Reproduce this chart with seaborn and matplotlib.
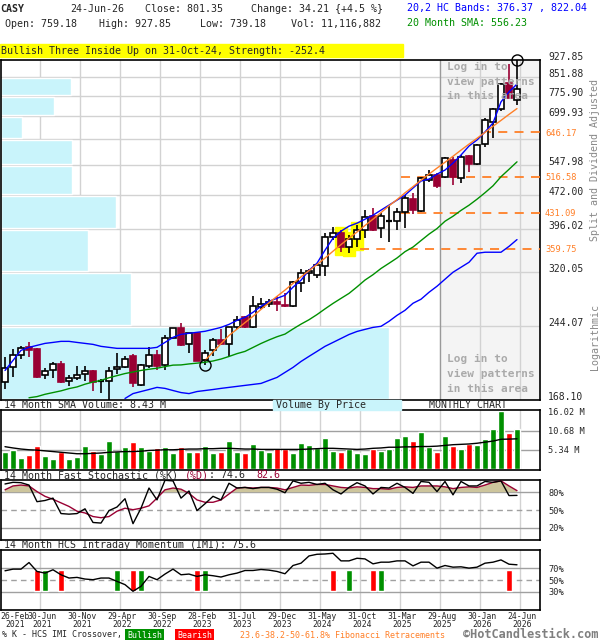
import numpy as np
import pandas as pd
import matplotlib
matplotlib.use("Agg")
from matplotlib import pyplot as plt
from matplotlib.patches import Rectangle
import seaborn as sns

# ---------------- data (Feb-2021 .. Jun-2026)
months = pd.date_range("2021-02-01", "2026-06-01", freq="MS")

opens = [184, 198, 211, 219, 217, 191, 195, 201, 185, 188,
         192, 194, 185, 185, 196, 198, 210, 181, 199, 211,
         200, 230, 241, 223, 235, 206, 216, 227, 223, 242,
         255, 242, 268, 272, 275, 271, 269, 302, 318, 315,
         329, 381, 389, 362, 377, 395, 423, 399, 413, 413,
         432, 461, 434, 508, 520, 515, 561, 513, 573, 550,
         608, 680, 726, 827, 759.18]
highs = [209, 217, 221, 225, 218, 197, 203, 204, 191, 199,
         199, 195, 187, 198, 213, 210, 212, 201, 219, 216,
         233, 241, 247, 235, 236, 216, 229, 240, 243, 257,
         256, 283, 280, 279, 283, 288, 305, 324, 324, 334,
         389, 401, 395, 385, 405, 436, 441, 430, 445, 441,
         471, 475, 515, 534, 526, 570, 570, 576, 576, 608,
         693, 730, 827, 910, 927.85]
lows = [178, 189, 207, 209, 188, 187, 188, 183, 180, 186,
        185, 176, 174, 168.5, 192, 197, 179, 180, 197, 195,
        195, 229, 221, 213, 204, 200.1, 210, 222, 210, 240,
        241, 241, 265, 268, 263, 268, 268, 289, 304, 311,
        313, 375, 353, 351, 362, 379, 393, 379, 371, 395,
        399, 428, 432, 502, 488, 513, 495, 500, 528, 548,
        599, 627, 718, 765, 739.18]
closes = [197, 211, 218, 216, 189, 194, 201, 184, 188, 191,
          194, 184, 185, 194, 198, 207, 183, 200, 211, 199,
          230, 241, 222, 235, 205, 213, 227, 223, 242, 251,
          242, 270, 272, 275, 272, 269, 304, 318, 321, 331,
          381, 389, 362, 377, 395, 421, 395, 423, 413, 432,
          463, 436, 513, 520, 492, 567, 515, 570, 550, 605,
          687, 726, 823, 767.14, 801.35]

# volume in millions of shares
volume = [4.87, 5.34, 3.12, 4.0, 6.41, 3.74, 2.94, 4.72, 2.94, 3.38,
          6.41, 5.07, 4.36, 7.74, 5.07, 6.14, 7.48, 6.14, 5.07, 5.96,
          6.14, 4.54, 6.14, 4.81, 4.81, 6.41, 4.54, 4.81, 7.74, 4.81,
          4.54, 6.94, 5.34, 4.81, 5.87, 5.61, 4.54, 7.36, 6.72, 5.81,
          8.58, 5.06, 4.87, 5.62, 4.59, 4.23, 5.53, 5.06, 5.53, 8.58,
          9.21, 7.83, 10.32, 6.25, 4.87, 9.21, 6.53, 5.62, 7.0, 6.81,
          8.38, 11.07, 16.02, 10.04, 11.12]
vol_sma = [6.25, 5.9, 5.6, 5.4, 5.3, 5.1, 4.9, 4.7, 4.5, 4.3,
           4.3, 4.4, 4.5, 4.7, 4.8, 4.9, 4.9, 5.0, 5.2, 5.3,
           5.4, 5.4, 5.5, 5.6, 5.6, 5.7, 5.7, 5.8, 5.8, 5.7,
           5.6, 5.6, 5.5, 5.5, 5.5, 5.5, 5.5, 5.5, 5.6, 5.7,
           5.8, 5.8, 5.7, 5.6, 5.5, 5.6, 5.8, 5.9, 6.1, 6.1,
           6.2, 6.2, 6.3, 6.3, 6.4, 6.6, 6.8, 6.9, 7.0, 7.2,
           7.5, 7.8, 8.3, 8.35, 8.43]

# 20,2 HC bands and 20 month SMA
upper_band = [195.0, 205.1, 215.7, 219.0, 221.2, 223.4, 224.5, 225.7, 225.7, 224.5,
              223.4, 222.3, 220.1, 219.0, 217.9, 217.9, 217.9, 217.9, 217.9, 219.0,
              224.5, 230.3, 233.8, 235.0, 236.2, 237.4, 239.7, 242.1, 245.8, 250.8,
              254.6, 261.2, 269.1, 276.0, 280.2, 284.5, 296.3, 306.8, 322.6, 334.2,
              356.8, 379.0, 392.6, 402.6, 408.7, 416.9, 425.5, 436.4, 447.5, 458.9,
              470.6, 487.6, 505.1, 510.1, 523.0, 533.7, 552.7, 575.6, 602.3, 620.8,
              646.3, 676.3, 751.7, 790.5, 822.04]
lower_start = 15
lower_band = [169.4, 173.6, 175.4, 177.2, 179.1, 178.2, 176.3, 174.5, 173.6, 175.4,
              176.3, 177.2, 178.2, 179.1, 180.0, 180.9, 181.8, 182.7, 185.5, 188.3,
              193.1, 198.0, 204.0, 209.3, 214.6, 220.1, 224.5, 229.0, 233.6, 237.2,
              239.7, 242.1, 243.4, 249.6, 257.2, 263.8, 273.3, 278.9, 288.8, 297.7,
              308.4, 319.4, 327.5, 335.8, 351.4, 353.2, 353.2, 353.2, 363.7, 376.37]
sma_start = 3
sma20 = [170, 171, 173, 174.5, 176, 178, 179.5, 182, 184, 185.5,
         188, 190, 192, 193.5, 195, 196.2, 197.2, 198.8, 200.3, 200.5,
         201.5, 202.3, 203.2, 204.5, 206.5, 209.2, 212.2, 214.6, 218.9, 223.3,
         227.3, 231.0, 234.1, 240.2, 246.1, 251.6, 258.2, 265.7, 273.1, 280.1,
         287.2, 296.7, 307.1, 315.5, 325.5, 334.1, 343.1, 354.2, 362.5, 374.5,
         386.8, 397.8, 412.7, 423.2, 435.8, 447.3, 461.0, 476.3, 493.1, 516.2,
         535.7, 556.23]
# orange trend line from the swing low
trend_start = 25
trend = [205, 214, 223, 232.5, 240, 248, 256, 265, 274, 283,
         292, 302, 312, 322, 332, 343, 355, 367, 379, 391,
         404, 417, 431, 446, 460, 476, 491, 507, 523, 539,
         555, 572, 590, 608, 626, 645, 665, 685, 706, 727]

fib_levels = [646.17, 516.58, 431.09, 359.75]
fib_from = [59.6, 49.5, 49.5, 44.4]        # month index where each line begins
pattern_months = [42, 43, 44]              # three inside up, Aug-Oct 2024
price_grid = [168.10, 244.07, 320.05, 396.02, 472.00, 547.98,
              623.95, 699.93, 775.90, 851.88, 927.85]
vbp_pct = [100, 33.5, 22.4, 29.6, 18.3, 18.3, 5.4, 13.7, 18.0, 0]   # volume by price

stoch_k = [93.8, 96.6, 96, 92, 64, 66, 70, 44, 43, 44,
           52, 29, 28, 49, 55, 69, 27, 53, 87, 67,
           100, 99, 70, 82, 49, 60.5, 73, 67, 95, 87,
           88, 86, 88, 88, 85, 79, 99, 95, 96.6, 93,
           95, 84, 77, 88, 96, 90.5, 77, 88, 87, 95,
           88, 78, 98, 96.6, 81, 98, 75.5, 98, 90.5, 90.5,
           98, 96.6, 99, 74.3, 74.6]
stoch_d = [84, 90.5, 92, 90.5, 81, 73, 68, 62, 56, 48,
           45, 39, 37, 39, 48, 53, 50.5, 53, 57, 70,
           84, 87, 85, 78, 67, 63, 63, 67, 77, 87,
           88, 87, 88, 88, 87, 84, 88, 92, 91.5, 93,
           93, 90.5, 88, 87, 89, 88, 86, 86, 85, 88,
           89, 88, 90.5, 90.5, 90.5, 89, 86, 88, 89, 88,
           92, 96.6, 99, 90.5, 82.6]
imi = [65.5, 68.3, 68.3, 79.4, 64.4, 61.6, 67.2, 58.8, 53.3, 54.4,
       51.6, 50.5, 53.3, 53.3, 47.7, 42.2, 31, 39.4, 56, 50.5,
       60, 68.3, 58.8, 60, 56, 58.8, 57.2, 55, 58.8, 61.6,
       66, 66, 67.7, 66.6, 64.4, 60.5, 74.4, 78.3, 90.5, 93.3,
       93.8, 95, 82.2, 82.2, 86.6, 85.5, 77.2, 80, 80, 82.2,
       82.2, 73.8, 80, 80, 70, 74.4, 71.6, 72.2, 70, 71.6,
       78.3, 80, 83.8, 76.6, 75.6]
bullish_months = [5, 14, 17, 25, 43, 47]
bearish_months = [4, 7, 16, 24, 41, 46, 63]

xlabels = ["26-Feb\n2021", "30-Jun\n2021", "30-Nov\n2021", "29-Apr\n2022",
           "30-Sep\n2022", "28-Feb\n2023", "31-Jul\n2023", "29-Dec\n2023",
           "31-May\n2024", "31-Oct\n2024", "31-Mar\n2025", "29-Aug\n2025",
           "30-Jan\n2026", "24-Jun\n2026"]

# ---------------- style
sns.set_style("white")
plt.rcParams['font.family'] = ['DejaVu Sans Mono']
MAROON = '#990033'
ORANGE = '#ff7f27'
GRID = '#d2d2d2'
CYAN = '#c9f4fb'

W, H = 600, 640
CW = 0.602 * 7.2 * 100 / 72     # width of one mono character at 7.2pt, in pixels
fig = plt.figure(figsize=(W / 100, H / 100), dpi=100)


def box(x0, y0, x1, y1):
    return [x0 / W, 1 - y1 / H, (x1 - x0) / W, (y1 - y0) / H]


def ftext(x, y, s, **kw):
    kw.setdefault('va', 'center')
    kw.setdefault('fontsize', 7.2)
    return fig.text(x / W, 1 - y / H, s, **kw)


def frect(x0, y0, x1, y1, color):
    fig.patches.append(Rectangle((x0 / W, 1 - y1 / H), (x1 - x0) / W, (y1 - y0) / H,
                                 transform=fig.transFigure, color=color, zorder=0))


idx = np.arange(len(closes))
XMIN, XMAX = -0.5, 66.875
grid_x = [(40 * k - 5) / 8 for k in range(1, 14)]

# ---------------- price panel
ax = fig.add_axes(box(1, 60, 540, 400))
ax.set_yscale('log')
ax.set_xlim(XMIN, XMAX)
ax.set_ylim(price_grid[0], price_grid[-1])
ax.axvspan(grid_x[10], XMAX, color='#f4f4f4', zorder=0)
for g in price_grid[1:-1]:
    ax.axhline(g, color=GRID, lw=1, zorder=1)
for k, gx in enumerate(grid_x):
    ax.axvline(gx, color='#9a9a9a' if k == 10 else GRID, lw=1, zorder=1)

lo = np.array(price_grid[:-1]) * 1.005
hi = np.array(price_grid[1:]) / 1.005
ax.barh(lo, np.array(vbp_pct) * 0.485, height=hi - lo, left=XMIN,
        align='edge', color=CYAN, zorder=1.5)

for i in pattern_months:
    ax.add_patch(Rectangle((i - 0.72, lows[i] * 0.985), 1.44,
                           highs[i] * 1.015 - lows[i] * 0.985,
                           color='#ffff00', zorder=3))

for lvl, st in zip(fib_levels, fib_from):
    ax.hlines(lvl, st, XMAX, colors=ORANGE, linestyles=(0, (5, 4)), lw=1.3, zorder=4)

for i in idx:
    o, h, l, c = opens[i], highs[i], lows[i], closes[i]
    if c > o:
        col, face = 'black', 'white'
    elif c < o:
        col, face = MAROON, MAROON
    else:
        col, face = 'black', None
    ax.vlines(i, l, h, color=col, lw=1.2, zorder=5)
    if face is None:
        ax.hlines(o, i - 0.4, i + 0.4, color='black', lw=1.6, zorder=6)
    else:
        ax.bar(i, abs(c - o), bottom=min(o, c), width=0.68, facecolor=face,
               edgecolor=col, lw=1.2, zorder=6)

sns.lineplot(x=idx, y=upper_band, ax=ax, color='#0000ff', linewidth=1, zorder=7)
sns.lineplot(x=idx[lower_start:], y=lower_band, ax=ax, color='#0000ff', linewidth=1, zorder=7)
sns.lineplot(x=idx[sma_start:], y=sma20, ax=ax, color='#009000', linewidth=1, zorder=7)
sns.lineplot(x=idx[trend_start:], y=trend, ax=ax, color=ORANGE, linewidth=1, zorder=7)

ax.plot(trend_start, lows[trend_start], 'o', mfc='none', mec='black', ms=8, mew=1, zorder=8)
ax.plot(idx[-1], highs[-1], 'o', mfc='none', mec='black', ms=8, mew=1, zorder=8, clip_on=False)

ax.yaxis.tick_right()
ax.set_yticks(price_grid, labels=['' if abs(v - 623.95) < 1 else f'{v:.2f}' for v in price_grid])
ax.set_yticks(fib_levels, labels=[f'{v:.2f}' for v in fib_levels], minor=True)
ax.tick_params(axis='y', which='both', length=0)
ax.tick_params(axis='y', which='major', pad=5.8, labelsize=7)
ax.tick_params(axis='y', which='minor', pad=3.6, labelsize=6.3, labelcolor=ORANGE)
for t in ax.get_yticklabels():
    t.set_va('baseline')
ax.set_xticks([])

for ys in ((67, 82, 96), (359, 374, 389)):
    for yy, s in zip(ys, ('Log in to', 'view patterns', 'in this area')):
        ftext(447, yy, s, color='#aaaaaa', fontweight='bold', fontsize=8, zorder=9)

ftext(595, 160, 'Split and Dividend Adjusted', rotation=90, ha='center', color='#888888')
ftext(595, 337, 'Logarithmic', rotation=90, ha='center', color='#888888')

# ---------------- volume panel
axv = fig.add_axes(box(1, 410, 540, 470))
axv.set_xlim(XMIN, XMAX)
axv.set_ylim(-0.2, 16.4)
for gx in grid_x:
    axv.axvline(gx, color=GRID, lw=1, zorder=0)
for g in (5.34, 10.68):
    axv.axhline(g, color='#a0a0a0', lw=1, zorder=0)
vol_cols = ['#009000' if c >= o else '#ff0000' for o, c in zip(opens, closes)]
axv.bar(idx, volume, width=0.75, color=vol_cols, zorder=2)
sns.lineplot(x=idx, y=vol_sma, ax=axv, color='black', linewidth=1, zorder=3)
axv.yaxis.tick_right()
axv.set_yticks([5.34, 10.68, 16.02], labels=['5.34 M', '10.68 M', '16.02 M'])

# ---------------- stochastic panel
axs = fig.add_axes(box(1, 480, 540, 540))
axs.set_xlim(XMIN, XMAX)
axs.set_ylim(-0.5, 100.5)
for gx in grid_x:
    axs.axvline(gx, color=GRID, lw=1, zorder=0)
for g in (20, 80):
    axs.axhline(g, color='#a0a0a0', lw=1, zorder=0)
axs.axhline(50, color='#a0a0a0', lw=1, ls=(0, (4, 3)), zorder=0)
d = np.array(stoch_d)
axs.fill_between(idx, d, 80, where=d > 80, interpolate=True, color='#cdc59c', lw=0, zorder=1)
sns.lineplot(x=idx, y=stoch_d, ax=axs, color=MAROON, linewidth=1, zorder=3)
sns.lineplot(x=idx, y=stoch_k, ax=axs, color='black', linewidth=1, zorder=4)
axs.yaxis.tick_right()
axs.set_yticks([20, 50, 80], labels=['20%', '50%', '80%'])

# ---------------- IMI panel
axi = fig.add_axes(box(1, 550, 540, 610))
axi.set_xlim(XMIN, XMAX)
axi.set_ylim(-0.5, 100.5)
for gx in grid_x:
    axi.axvline(gx, color=GRID, lw=1, zorder=0)
for g in (30, 70):
    axi.axhline(g, color='#a0a0a0', lw=1, zorder=0)
axi.axhline(50, color='#a0a0a0', lw=1, ls=(0, (4, 3)), zorder=0)
axi.bar(bullish_months, 35, bottom=32, width=0.75, color='#009000', zorder=2)
axi.bar(bearish_months, 35, bottom=32, width=0.75, color='#ff0000', zorder=2)
sns.lineplot(x=idx, y=imi, ax=axi, color='black', linewidth=1, zorder=3)
axi.yaxis.tick_right()
axi.set_yticks([30, 50, 70], labels=['30%', '50%', '70%'])
axi.set_xticks([1.25] + [g + 0.25 for g in grid_x], labels=xlabels)
axi.tick_params(axis='x', length=0, pad=1.5, labelsize=5.9)
for t in axi.get_xticklabels():
    t.set_linespacing(0.85)

for a in (axv, axs, axi):
    a.tick_params(axis='y', length=0, pad=5.8, labelsize=6.2)
    if a is not axi:
        a.set_xticks([])
for a in (ax, axv, axs, axi):
    a.set(xlabel='', ylabel='')
    for sp in a.spines.values():
        sp.set_color('black')
        sp.set_linewidth(1.2)

# ---------------- header and captions
ftext(0, 9, 'CASY', fontweight='bold')
ftext(70, 9, '24-Jun-26')
ftext(145, 9, 'Close: 801.35')
ftext(251, 9, 'Change: 34.21 {+4.5 %}')
ftext(5, 24, 'Open: 759.18')
ftext(99, 24, 'High: 927.85')
ftext(200, 24, 'Low: 739.18')
ftext(291, 24, 'Vol: 11,116,882')
ftext(407, 8, '20,2 HC Bands: 376.37 , 822.04', color='#0000ff')
ftext(407, 23, '20 Month SMA: 556.23', color='#009000')

frect(0, 44, 403, 57, '#ffff00')
ftext(1, 50.5, 'Bullish Three Inside Up on 31-Oct-24, Strength: -252.4')

ftext(4, 405.5, '14 Month SMA Volume: 8.43 M')
frect(273, 400, 401, 410, CYAN)
ftext(276, 405.5, 'Volume By Price')
ftext(468, 405.5, 'MONTHLY CHART', ha='center')

# stochastic title: black and maroon pieces laid end to end (monospace)
ftext(4, 475.5, '14 Month Fast Stochastic (%K)')
ftext(4 + 30 * CW, 475.5, '(%D)', color=MAROON)
ftext(4 + 34 * CW, 475.5, ': 74.6')
ftext(4 + 42 * CW, 475.5, '82.6', color=MAROON)
ftext(4, 545.5, '14 Month HCS Intraday Momentum (IMI): 75.6')

ftext(2, 635, '% K - HCS IMI Crossover,', fontsize=6)
ftext(127, 635, 'Bullish', fontsize=6, color='white',
      bbox=dict(facecolor='#009000', edgecolor='none', pad=1.2))
ftext(177, 635, 'Bearish', fontsize=6, color='white',
      bbox=dict(facecolor='#ff0000', edgecolor='none', pad=1.2))
ftext(240, 635, '23.6-38.2-50-61.8% Fibonacci Retracements', fontsize=6, color=ORANGE)
ftext(463, 634, '\u00a9HotCandlestick.com', fontsize=8.6, fontweight='bold', color='#7f7f7f')

fig.savefig('out.png', dpi=100)
